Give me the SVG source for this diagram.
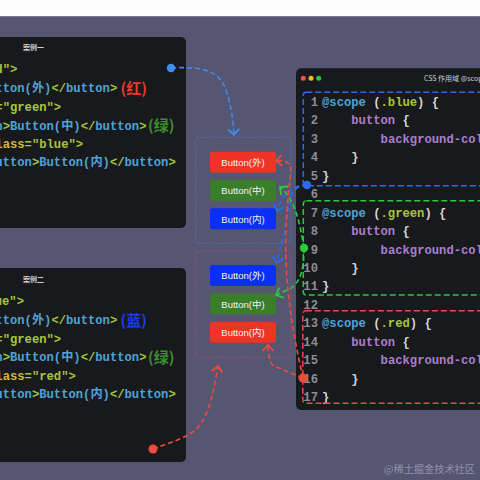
<svg xmlns="http://www.w3.org/2000/svg" width="480" height="480" viewBox="0 0 480 480">
<style>
.c{font-family:"Liberation Mono","Noto Sans CJK SC",monospace;font-size:12.2px;font-weight:bold}
.tg{fill:#4ea3d8}.pu{fill:#a2c43b}.st{fill:#a6c63c}.at{fill:#d8b24b}.pl{fill:#a87fcc}.wh{fill:#d6d6d6}
.ln{fill:#8a8e96;text-anchor:end}
.lab{font-family:"Noto Sans CJK SC",sans-serif;font-size:15px;font-weight:bold}
.ttl{font-family:"Noto Sans CJK SC","Liberation Sans",sans-serif;font-size:7px;fill:#cfcfcf;font-weight:bold}
.btn text{font-family:"Liberation Sans","Noto Sans CJK SC",sans-serif;font-size:9.5px;fill:#f4f4f4;text-anchor:middle}
.conn path{fill:none;stroke-width:1.6;stroke-dasharray:5 3}
</style>
<defs>
<marker id="mLb" markerUnits="userSpaceOnUse" markerWidth="20" markerHeight="20" viewBox="-10 -10 20 20" refX="0" refY="0" orient="auto"><path d="M-6,-5.5 L0,0 L-6,5.5" fill="none" stroke="#3d8ff0" stroke-width="1.8"/></marker>
<marker id="mB" markerUnits="userSpaceOnUse" markerWidth="20" markerHeight="20" viewBox="-10 -10 20 20" refX="0" refY="0" orient="auto"><path d="M-6,-5.5 L0,0 L-6,5.5" fill="none" stroke="#2a6cf0" stroke-width="1.8"/></marker>
<marker id="mG" markerUnits="userSpaceOnUse" markerWidth="20" markerHeight="20" viewBox="-10 -10 20 20" refX="0" refY="0" orient="auto"><path d="M-6,-5.5 L0,0 L-6,5.5" fill="none" stroke="#27cc3a" stroke-width="1.8"/></marker>
<marker id="mR" markerUnits="userSpaceOnUse" markerWidth="20" markerHeight="20" viewBox="-10 -10 20 20" refX="0" refY="0" orient="auto"><path d="M-6,-5.5 L0,0 L-6,5.5" fill="none" stroke="#f04a3c" stroke-width="1.8"/></marker>
</defs>
<rect x="0" y="0" width="480" height="480" fill="#565673"/>
<rect x="0" y="0" width="480" height="16" fill="#fdfdfd"/>
<rect x="0" y="16" width="480" height="1" fill="#7b7b8c"/>

<g id="panel1">
<rect x="-10" y="37" width="196" height="191" rx="5" fill="#18191c"/>
<text class="ttl" x="33.5" y="49.5" text-anchor="middle">案例一</text>
<text class="c" x="-4.7" y="73"><tspan class="st">d"</tspan><tspan class="pu">&gt;</tspan></text>
<text class="c" x="-4.7" y="92"><tspan class="tg">tton(外)</tspan><tspan class="pu">&lt;/</tspan><tspan class="tg">button</tspan><tspan class="pu">&gt;</tspan></text>
<text class="lab" x="120.5" y="93.5" fill="#f0352b">(红)</text>
<text class="c" x="-4.7" y="111"><tspan class="pu">=</tspan><tspan class="st">"green"</tspan><tspan class="pu">&gt;</tspan></text>
<text class="c" x="-4.7" y="129.5"><tspan class="tg">n</tspan><tspan class="pu">&gt;</tspan><tspan class="tg">Button(中)</tspan><tspan class="pu">&lt;/</tspan><tspan class="tg">button</tspan><tspan class="pu">&gt;</tspan></text>
<text class="lab" x="148" y="131" fill="#3d8f2d">(绿)</text>
<text class="c" x="-4.7" y="147.5"><tspan class="at">lass</tspan><tspan class="pu">=</tspan><tspan class="st">"blue"</tspan><tspan class="pu">&gt;</tspan></text>
<text class="c" x="-4.7" y="166"><tspan class="tg">utton</tspan><tspan class="pu">&gt;</tspan><tspan class="tg">Button(内)</tspan><tspan class="pu">&lt;/</tspan><tspan class="tg">button</tspan><tspan class="pu">&gt;</tspan></text>
</g>

<g id="panel2">
<rect x="-10" y="268" width="196" height="194" rx="5" fill="#18191c"/>
<text class="ttl" x="33.5" y="281.5" text-anchor="middle">案例二</text>
<text class="c" x="-5.3" y="304.5"><tspan class="st">ue"</tspan><tspan class="pu">&gt;</tspan></text>
<text class="c" x="-4.7" y="324"><tspan class="tg">tton(外)</tspan><tspan class="pu">&lt;/</tspan><tspan class="tg">button</tspan><tspan class="pu">&gt;</tspan></text>
<text class="lab" x="120.5" y="325.5" fill="#1a3cf5">(蓝)</text>
<text class="c" x="-4.7" y="342.5"><tspan class="pu">=</tspan><tspan class="st">"green"</tspan><tspan class="pu">&gt;</tspan></text>
<text class="c" x="-4.7" y="361"><tspan class="tg">n</tspan><tspan class="pu">&gt;</tspan><tspan class="tg">Button(中)</tspan><tspan class="pu">&lt;/</tspan><tspan class="tg">button</tspan><tspan class="pu">&gt;</tspan></text>
<text class="lab" x="148" y="362.5" fill="#3d8f2d">(绿)</text>
<text class="c" x="-4.7" y="379.5"><tspan class="at">lass</tspan><tspan class="pu">=</tspan><tspan class="st">"red"</tspan><tspan class="pu">&gt;</tspan></text>
<text class="c" x="-4.7" y="398"><tspan class="tg">utton</tspan><tspan class="pu">&gt;</tspan><tspan class="tg">Button(内)</tspan><tspan class="pu">&lt;/</tspan><tspan class="tg">button</tspan><tspan class="pu">&gt;</tspan></text>
</g>

<g id="box1">
<rect x="195.7" y="137.3" width="95" height="106" rx="2" fill="none" stroke="#4b7fd6" stroke-width="0.9" stroke-dasharray="1.5 1.5" opacity="0.8"/>
<g class="btn">
<rect x="210" y="151.7" width="66" height="21" rx="2.5" fill="#ee3425"/><text x="243" y="166">Button(外)</text>
<rect x="210" y="180" width="66" height="21" rx="2.5" fill="#3a7d2b"/><text x="243" y="194.3">Button(中)</text>
<rect x="210" y="208.3" width="66" height="21" rx="2.5" fill="#0b2ff5"/><text x="243" y="222.6">Button(内)</text>
</g>
</g>

<g id="box2">
<rect x="195.7" y="251.3" width="95" height="106" rx="2" fill="none" stroke="#c24b6e" stroke-width="0.9" stroke-dasharray="1.5 1.5" opacity="0.8"/>
<g class="btn">
<rect x="210" y="265" width="66" height="21" rx="2.5" fill="#0b2ff5"/><text x="243" y="279.3">Button(外)</text>
<rect x="210" y="293.3" width="66" height="21" rx="2.5" fill="#3a7d2b"/><text x="243" y="307.6">Button(中)</text>
<rect x="210" y="321.7" width="66" height="21" rx="2.5" fill="#ee3425"/><text x="243" y="336">Button(内)</text>
</g>
</g>

<g id="panel3">
<rect x="296" y="68.3" width="200" height="341.7" rx="5" fill="#18191c"/>
<circle cx="303.3" cy="78.3" r="2.5" fill="#f0524a"/>
<circle cx="311" cy="78.3" r="2.5" fill="#f4b72e"/>
<circle cx="318.7" cy="78.3" r="2.5" fill="#2fc145"/>
<text class="ttl" x="424" y="80.8" style="font-weight:normal">CSS 作用域 @scope</text>
<g class="c">
<text class="ln" x="318" y="106">1</text>
<text x="322" y="106"><tspan class="tg">@scope</tspan><tspan class="wh"> (</tspan><tspan class="st">.blue</tspan><tspan class="wh">) {</tspan></text>
<text class="ln" x="318" y="124.4">2</text>
<text x="351.3" y="124.4"><tspan class="pl">button</tspan><tspan class="wh"> {</tspan></text>
<text class="ln" x="318" y="142.9">3</text>
<text class="pl" x="380.6" y="142.9">background-col</text>
<text class="ln" x="318" y="161.3">4</text>
<text class="wh" x="351.3" y="161.3">}</text>
<text class="ln" x="318" y="179.8">5</text>
<text class="wh" x="322" y="179.8">}</text>
<text class="ln" x="318" y="198.2">6</text>
<text class="ln" x="318" y="216.6">7</text>
<text x="322" y="216.6"><tspan class="tg">@scope</tspan><tspan class="wh"> (</tspan><tspan class="st">.green</tspan><tspan class="wh">) {</tspan></text>
<text class="ln" x="318" y="235.1">8</text>
<text x="351.3" y="235.1"><tspan class="pl">button</tspan><tspan class="wh"> {</tspan></text>
<text class="ln" x="318" y="253.5">9</text>
<text class="pl" x="380.6" y="253.5">background-col</text>
<text class="ln" x="318" y="272">10</text>
<text class="wh" x="351.3" y="272">}</text>
<text class="ln" x="318" y="290.4">11</text>
<text class="wh" x="322" y="290.4">}</text>
<text class="ln" x="318" y="308.8">12</text>
<text class="ln" x="318" y="327.3">13</text>
<text x="322" y="327.3"><tspan class="tg">@scope</tspan><tspan class="wh"> (</tspan><tspan class="st">.red</tspan><tspan class="wh">) {</tspan></text>
<text class="ln" x="318" y="345.7">14</text>
<text x="351.3" y="345.7"><tspan class="pl">button</tspan><tspan class="wh"> {</tspan></text>
<text class="ln" x="318" y="364.2">15</text>
<text class="pl" x="380.6" y="364.2">background-col</text>
<text class="ln" x="318" y="382.6">16</text>
<text class="wh" x="351.3" y="382.6">}</text>
<text class="ln" x="318" y="401">17</text>
<text class="wh" x="322" y="401">}</text>
</g>
<rect x="303.3" y="92.3" width="200" height="93.4" rx="3" fill="none" stroke="#2a6cf0" stroke-width="1.5" stroke-dasharray="6 3"/>
<rect x="303.3" y="200.7" width="200" height="94.3" rx="3" fill="none" stroke="#27cc3a" stroke-width="1.5" stroke-dasharray="6 3"/>
<rect x="302.8" y="310.7" width="200" height="92.6" rx="3" fill="none" stroke="#f04a3c" stroke-width="1.5" stroke-dasharray="6 3"/>
</g>

<g id="connectors" class="conn">
<path d="M171,68 C205,66 220,72 226,90 C231,105 233,118 234,135" stroke="#3d8ff0" marker-end="url(#mLb)"/>
<path d="M307,185 C291,185 282,196 277,211" stroke="#2a6cf0" marker-end="url(#mB)"/>
<path d="M307,185 C293,186 289,196 288,210 C286,230 280,245 277,263" stroke="#2a6cf0" marker-end="url(#mB)"/>
<path d="M304,248 C300,225 296,200 280,187" stroke="#27cc3a" marker-end="url(#mG)"/>
<path d="M304,248 C304,268 301,282 290,289 L276,295" stroke="#27cc3a" marker-end="url(#mG)"/>
<path d="M303,378 L274,366 C270,364 268,356 268,345" stroke="#f04a3c" marker-end="url(#mR)"/>
<path d="M303,378 C292,330 284,280 286,230 C287,200 290,180 291,170 C291,162 285,160 276,161" stroke="#f04a3c" marker-end="url(#mR)"/>
<path d="M153,449 C170,442 190,438 200,425 C210,410 214,390 218,366" stroke="#f04a3c" marker-end="url(#mR)"/>
<circle cx="171" cy="68" r="4.2" fill="#3d8ff0"/>
<circle cx="307" cy="185" r="4.2" fill="#2a6cf0"/>
<circle cx="304" cy="248" r="4.2" fill="#27cc3a"/>
<circle cx="303" cy="378" r="4.5" fill="#f04a3c"/>
<circle cx="153" cy="449" r="4.5" fill="#f04a3c"/>
</g>

<text x="475" y="473" text-anchor="end" font-family="Noto Sans CJK SC, sans-serif" font-size="10.2" fill="#a5a5b8" opacity="0.75">@稀土掘金技术社区</text>
</svg>
